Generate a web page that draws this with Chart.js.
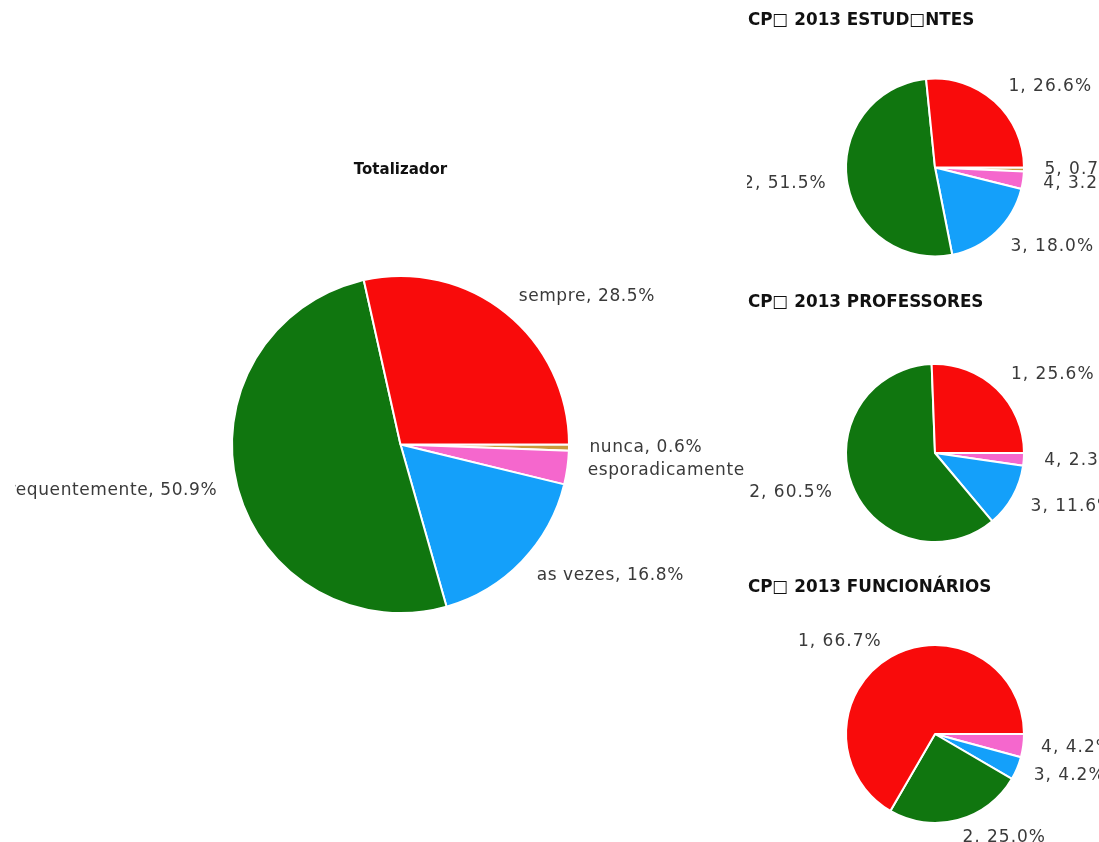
<!DOCTYPE html>
<html>
<head>
<meta charset="utf-8">
<script src="https://cdn.jsdelivr.net/npm/chart.js@4.4.1/dist/chart.umd.min.js"></script>
<style>
  html, body { margin: 0; padding: 0; background: #fff; overflow: hidden; width: 1099px; height: 842px; }
  .wrap { position: absolute; overflow: hidden; background: #fff; }
  canvas { position: absolute; top: 0; }
</style>
</head>
<body>
<div class="wrap" style="left:15px;top:0;width:730px;height:842px;"><canvas id="cTotal" width="801" height="842" style="left:-15px"></canvas></div>
<div class="wrap" style="left:747px;top:0;width:352px;height:280px;"><canvas id="cEst" width="380" height="280" style="left:-2px"></canvas></div>
<div class="wrap" style="left:747px;top:280px;width:352px;height:280px;"><canvas id="cProf" width="380" height="280" style="left:-2px"></canvas></div>
<div class="wrap" style="left:747px;top:560px;width:352px;height:282px;"><canvas id="cFunc" width="380" height="282" style="left:-2px"></canvas></div>
<script>
// ---- data ----
const totalTitle = 'Totalizador';
const categories = ['sempre', 'frequentemente', 'as vezes', 'esporadicamente', 'nunca'];
const totalValues = [28.5, 50.9, 16.8, 3.2, 0.6];

const groupCodes = ['1', '2', '3', '4', '5'];
const estudantesTitle = 'CP\u25A1 2013 ESTUD\u25A1NTES';
const estudantesValues = [26.6, 51.5, 18.0, 3.2, 0.7];
const professoresTitle = 'CP\u25A1 2013 PROFESSORES';
const professoresValues = [25.6, 60.5, 11.6, 2.3];
const funcionariosTitle = 'CP\u25A1 2013 FUNCION\u00C1RIOS';
const funcionariosValues = [66.7, 25.0, 4.2, 4.2];

const sliceColors = ['#f90b0b', '#10760f', '#14a0fa', '#f567cd', '#c99a3c'];

// ---- plugin: outside labels + title ----
const outerLabels = {
  id: 'outerLabels',
  afterDatasetsDraw(chart, args, opts) {
    const ctx = chart.ctx;
    const meta = chart.getDatasetMeta(0);
    const ds = chart.data.datasets[0];
    ctx.save();
    ctx.font = opts.font;
    ctx.fillStyle = '#3a3a3a';
    ctx.letterSpacing = opts.spacing;
    ctx.textBaseline = 'middle';
    meta.data.forEach((arc, i) => {
      const v = ds.data[i];
      if (!v) return;
      const mid = (arc.startAngle + arc.endAngle) / 2;
      const rr = arc.outerRadius + opts.gap;
      const x = arc.x + Math.cos(mid) * rr;
      const y = arc.y + Math.sin(mid) * rr;
      ctx.textAlign = Math.cos(mid) >= 0 ? 'left' : 'right';
      ctx.fillText(chart.data.labels[i] + ', ' + v.toFixed(1) + '%', x, y);
    });
    const t = opts.title;
    ctx.letterSpacing = '0px';
    ctx.font = t.font;
    ctx.fillStyle = '#111';
    ctx.textAlign = t.align;
    ctx.fillText(t.text, t.x, t.y);
    ctx.restore();
  }
};

function makePie(id, labels, values, padding, labelOpts) {
  // drawn clockwise starting at 3 o'clock with the last category first
  const l = labels.slice(0, values.length).reverse();
  const v = values.slice().reverse();
  const c = sliceColors.slice(0, values.length).reverse();
  return new Chart(document.getElementById(id), {
    type: 'pie',
    data: { labels: l, datasets: [{ data: v, backgroundColor: c, borderColor: '#ffffff', borderWidth: 2 }] },
    options: {
      responsive: false,
      animation: false,
      rotation: 90,
      layout: { padding: padding },
      plugins: {
        legend: { display: false },
        tooltip: { enabled: false },
        outerLabels: labelOpts
      }
    },
    plugins: [outerLabels]
  });
}

makePie('cTotal', categories, totalValues,
  { top: 275, bottom: 228, left: 0, right: 0 },
  { font: '17px "DejaVu Sans"', spacing: '0.6px', gap: 20.5,
    title: { text: totalTitle, font: 'bold 15px "DejaVu Sans"', align: 'center', x: 400.5, y: 170 } });

makePie('cEst', groupCodes, estudantesValues,
  { top: 77.5, bottom: 22.5, left: 0, right: 0 },
  { font: '17px "DejaVu Sans"', spacing: '1px', gap: 20.5,
    title: { text: estudantesTitle, font: 'bold 16.8px "DejaVu Sans"', align: 'left', x: 3, y: 21 } });

makePie('cProf', groupCodes, professoresValues,
  { top: 83, bottom: 17, left: 0, right: 0 },
  { font: '17px "DejaVu Sans"', spacing: '1px', gap: 20.5,
    title: { text: professoresTitle, font: 'bold 16.8px "DejaVu Sans"', align: 'left', x: 3, y: 23 } });

makePie('cFunc', groupCodes, funcionariosValues,
  { top: 84, bottom: 18, left: 0, right: 0 },
  { font: '17px "DejaVu Sans"', spacing: '1px', gap: 18,
    title: { text: funcionariosTitle, font: 'bold 16.8px "DejaVu Sans"', align: 'left', x: 3, y: 28 } });
</script>
</body>
</html>
